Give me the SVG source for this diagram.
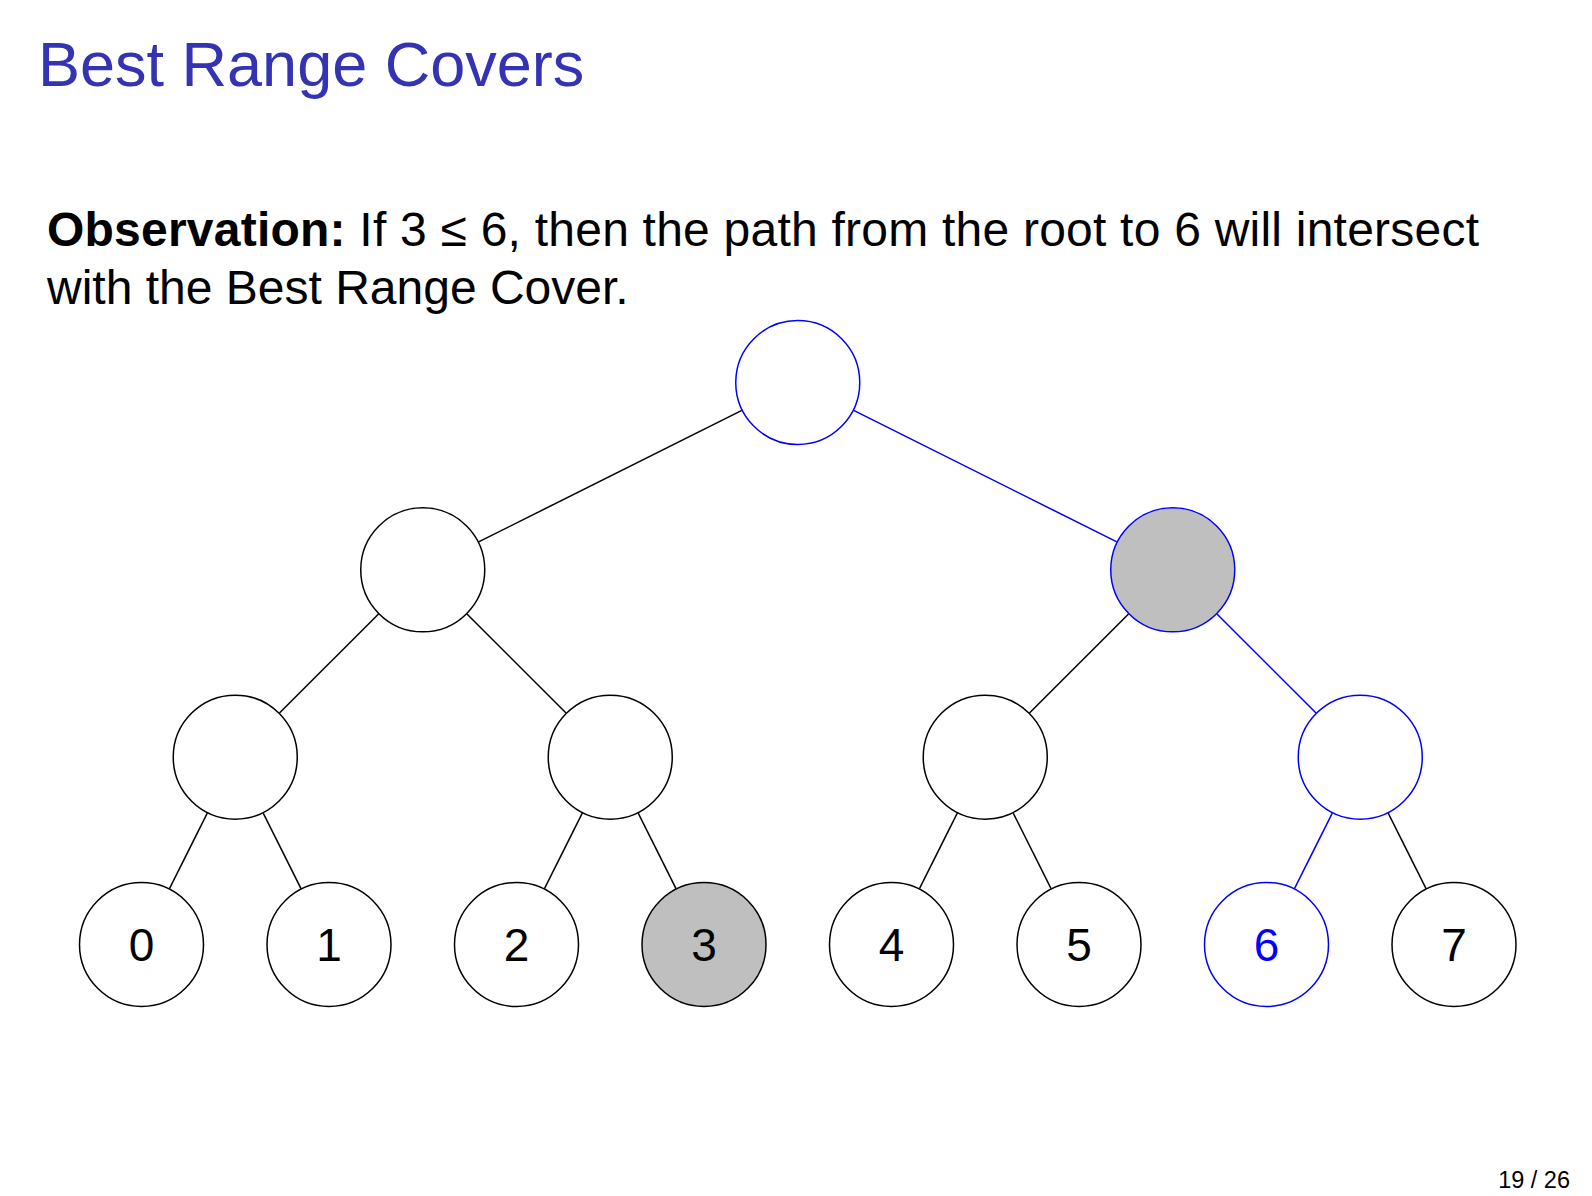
<svg xmlns="http://www.w3.org/2000/svg" width="1592" height="1196" viewBox="0 0 1592 1196">
<style>
  text { font-family: "Liberation Sans", Arial, Helvetica, sans-serif; }
  .title { font-size: 63px; fill: #3333b3; }
  .body { font-size: 48px; fill: #000; }
  .node { fill: #fff; stroke: #000; stroke-width: 1.5; }
  .node.blue { stroke: #0000ff; }
  .node.gray { fill: #bfbfbf; }
  .lbl { font-size: 46px; text-anchor: middle; fill: #000; }
  .lbl.blue { fill: #0000ff; }
  .edge { stroke: #000; stroke-width: 1.5; fill: none; }
  .edge.blue { stroke: #0000ff; }
  .pg { font-size: 23.5px; fill: #000; text-anchor: end; }
</style>
<rect width="1592" height="1196" fill="#fff"/>
<text class="title" x="38" y="86">Best Range Covers</text>
<text class="body" x="47" y="246" textLength="1432" lengthAdjust="spacing"><tspan font-weight="bold">Observation:</tspan> If 3 ≤ 6, then the path from the root to 6 will intersect</text>
<text class="body" x="47" y="304">with the Best Range Cover.</text>

<g id="connectors">
  <line class="edge" x1="741.84" y1="410.43" x2="478.66" y2="541.9"/>
  <line class="edge blue" x1="853.66" y1="410.43" x2="1116.84" y2="541.9"/>
  <line class="edge" x1="378.54" y1="614.01" x2="279.46" y2="712.99"/>
  <line class="edge" x1="466.96" y1="614.01" x2="566.04" y2="712.99"/>
  <line class="edge" x1="1128.54" y1="614.01" x2="1029.46" y2="712.99"/>
  <line class="edge blue" x1="1216.96" y1="614.01" x2="1316.04" y2="712.99"/>
  <line class="edge" x1="207.28" y1="813.06" x2="169.47" y2="888.61"/>
  <line class="edge" x1="263.22" y1="813.06" x2="301.03" y2="888.61"/>
  <line class="edge" x1="582.28" y1="813.06" x2="544.47" y2="888.61"/>
  <line class="edge" x1="638.22" y1="813.06" x2="676.03" y2="888.61"/>
  <line class="edge" x1="957.28" y1="813.06" x2="919.47" y2="888.61"/>
  <line class="edge" x1="1013.22" y1="813.06" x2="1051.03" y2="888.61"/>
  <line class="edge blue" x1="1332.28" y1="813.06" x2="1294.47" y2="888.61"/>
  <line class="edge" x1="1388.22" y1="813.06" x2="1426.03" y2="888.61"/>
</g>

<g id="root"><circle class="node blue" cx="797.75" cy="382.5" r="62"/></g>
<g id="n-l"><circle class="node" cx="422.75" cy="569.83" r="62"/></g>
<g id="n-r"><circle class="node blue gray" cx="1172.75" cy="569.83" r="62"/></g>
<g id="n-ll"><circle class="node" cx="235.25" cy="757.17" r="62"/></g>
<g id="n-lr"><circle class="node" cx="610.25" cy="757.17" r="62"/></g>
<g id="n-rl"><circle class="node" cx="985.25" cy="757.17" r="62"/></g>
<g id="n-rr"><circle class="node blue" cx="1360.25" cy="757.17" r="62"/></g>

<g id="leaf0"><circle class="node" cx="141.5" cy="944.5" r="62"/><text class="lbl" x="141.5" y="961">0</text></g>
<g id="leaf1"><circle class="node" cx="329" cy="944.5" r="62"/><text class="lbl" x="329" y="961">1</text></g>
<g id="leaf2"><circle class="node" cx="516.5" cy="944.5" r="62"/><text class="lbl" x="516.5" y="961">2</text></g>
<g id="leaf3"><circle class="node gray" cx="704" cy="944.5" r="62"/><text class="lbl" x="704" y="961">3</text></g>
<g id="leaf4"><circle class="node" cx="891.5" cy="944.5" r="62"/><text class="lbl" x="891.5" y="961">4</text></g>
<g id="leaf5"><circle class="node" cx="1079" cy="944.5" r="62"/><text class="lbl" x="1079" y="961">5</text></g>
<g id="leaf6"><circle class="node blue" cx="1266.5" cy="944.5" r="62"/><text class="lbl blue" x="1266.5" y="961">6</text></g>
<g id="leaf7"><circle class="node" cx="1454" cy="944.5" r="62"/><text class="lbl" x="1454" y="961">7</text></g>

<text class="pg" x="1570" y="1187.5">19 / 26</text>
</svg>
